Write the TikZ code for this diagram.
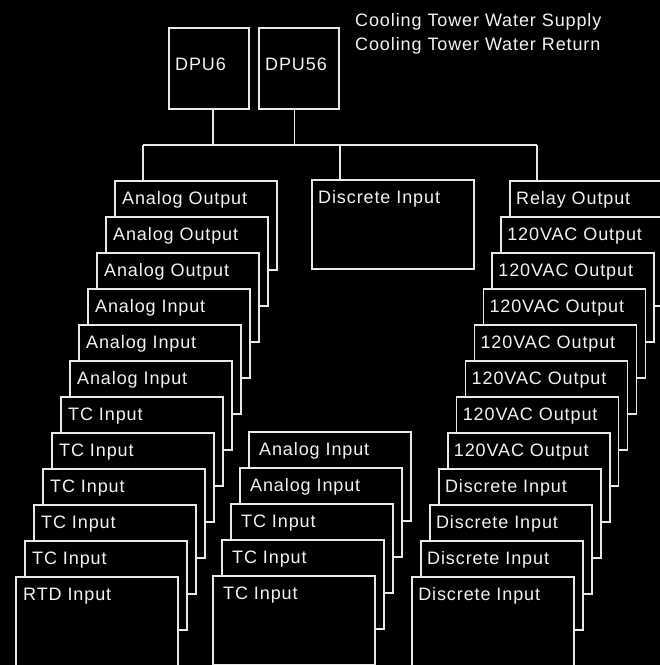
\documentclass[tikz,border=0pt]{standalone}
\usepackage{fontspec}
\setmainfont{Liberation Sans}[LetterSpace=5]
\usetikzlibrary{calc}

\begin{document}
\begin{tikzpicture}[x=1pt,y=-1pt,
    wire/.style={draw=lnclr,line width=1.6pt},
    card/.style={draw=lnclr,fill=black,line width=1.6pt,anchor=north west,
        inner sep=0pt,outer sep=0pt,minimum width=162pt,minimum height=89pt},
    dpubox/.style={card,minimum width=80pt,minimum height=81pt},
    txt/.style={anchor=base west,text=txtclr,inner sep=0pt,
        font=\fontsize{18}{24}\selectfont},
    tag/.style={txt,xshift=7pt,yshift=-23pt}]
    \definecolor{lnclr}{RGB}{232,232,232}\definecolor{txtclr}{RGB}{242,242,242}
    \useasboundingbox (0,0) rectangle (660,665);
    \clip (0,0) rectangle (660,665);
    \fill[black] (0,0) rectangle (660,665);
    % controllers and legend
    \node[dpubox,label={[tag,xshift=-1pt,yshift=-19pt]north west:DPU6}] (dpu6) at (169,28) {};
    \node[dpubox,label={[tag,xshift=-1pt,yshift=-19pt]north west:DPU56}] (dpu56) at (259,28) {};
    \node[txt] (legA) at (355,26) {Cooling Tower Water Supply};
    \node[txt] (legB) at (355,50) {Cooling Tower Water Return};
    % bus
    \coordinate (busL) at (143,145);
    \coordinate (busM) at (340,145);
    \coordinate (busR) at (537,145);
    \draw[wire] (busL) -- (busR);
    \draw[wire] ([xshift=4pt]dpu6.south) -- ([xshift=4pt]dpu6.south |- busL);
    \draw[wire] ([xshift=-4.5pt]dpu56.south) -- ([xshift=-4.5pt]dpu56.south |- busL);
    % left rack (top card sits behind)
    \foreach \lab [count=\i from 0] in {Analog Output,Analog Output,Analog Output,
        Analog Input,Analog Input,Analog Input,TC Input,TC Input,TC Input,TC Input,
        TC Input,RTD Input}{
       \node[card,label={[tag]north west:\lab}] (lft\i) at ({115-9*\i},{181+36*\i}) {};
    }
    % middle cards
    \node[card,label={[tag,xshift=-1pt]north west:Discrete Input}] (dimid) at (312,180) {};
    \foreach \lab [count=\i from 0] in {Analog Input,Analog Input,TC Input,TC Input,TC Input}{
       \node[card,label={[tag,xshift=3pt]north west:\lab}] (mid\i) at ({249-9*\i},{432+36*\i}) {};
    }
    % right rack
    \foreach \lab [count=\i from 0] in {Relay Output,120VAC Output,120VAC Output,
        120VAC Output,120VAC Output,120VAC Output,120VAC Output,120VAC Output,
        Discrete Input,Discrete Input,Discrete Input,Discrete Input}{
       \node[card,label={[tag,xshift=-1pt]north west:\lab}] (rgt\i) at ({510-8.9*\i},{181+36*\i}) {};
    }
    % drops to the racks
    \draw[wire] (busL) -- (busL |- lft0.north);
    \draw[wire] (busM) -- (busM |- dimid.north);
    \draw[wire] (busR) -- (busR |- rgt0.north);
\end{tikzpicture}
\end{document}
